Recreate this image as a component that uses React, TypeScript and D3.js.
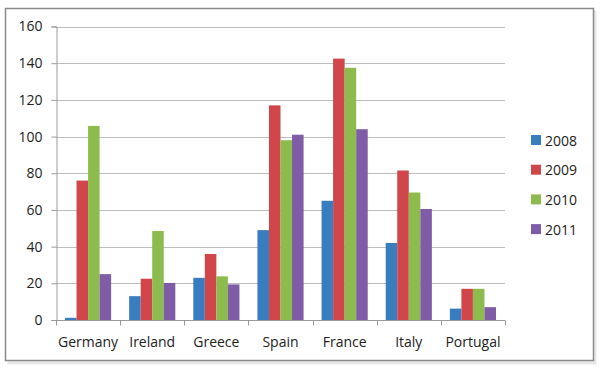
import { useEffect, useRef } from "react";
import * as d3 from "d3";

// Grouped bars, one group per country, one bar per year.
const countries = ["Germany", "Ireland", "Greece", "Spain", "France", "Italy", "Portugal"];
const years = ["2008", "2009", "2010", "2011"];
const values2008 = [1.2, 13, 23, 49, 65, 42, 6.2];
const values2009 = [76, 22.5, 36, 117, 142.5, 81.5, 17];
const values2010 = [105.8, 48.5, 23.8, 98, 137.5, 69.5, 17];
const values2011 = [25, 20.2, 19.4, 101, 104, 60.5, 7];
const yTicks = [0, 20, 40, 60, 80, 100, 120, 140, 160];

const COLORS = ["#3A7CC0", "#D0464A", "#8DBB4E", "#7E5CA6"];
const FONT = "'Open Sans', sans-serif";
const W = 600;
const H = 375;
const PLOT = { left: 56, right: 505, top: 26.5, bottom: 320 };

export default function App() {
  const svgRef = useRef<SVGSVGElement>(null);

  useEffect(() => {
    const svg = d3.select(svgRef.current);
    svg.selectAll("*").remove();

    const series = [values2008, values2009, values2010, values2011];

    const x0 = d3.scaleBand<string>().domain(countries).range([PLOT.left, PLOT.right]);
    const x1 = d3
      .scaleBand<string>()
      .domain(years)
      .range([0, x0.bandwidth()])
      .paddingOuter(0.78)
      .paddingInner(0);
    const y = d3.scaleLinear().domain([0, 160]).range([PLOT.bottom, PLOT.top]);

    // Frame with soft shadow.
    svg.append("rect").attr("width", W).attr("height", H).attr("fill", "#ffffff");
    svg
      .append("rect")
      .attr("x", 7.5)
      .attr("y", 10.5)
      .attr("width", 589)
      .attr("height", 354)
      .attr("fill", "#d8d8d8")
      .attr("opacity", 0.6);
    svg
      .append("rect")
      .attr("x", 5.5)
      .attr("y", 8.5)
      .attr("width", 588)
      .attr("height", 352)
      .attr("fill", "#ffffff")
      .attr("stroke", "#8a8a8a")
      .attr("stroke-width", 1.5);

    // Gridlines.
    svg
      .append("g")
      .selectAll("line")
      .data(yTicks.filter((t) => t > 0))
      .join("line")
      .attr("x1", PLOT.left)
      .attr("x2", PLOT.right)
      .attr("y1", (d) => Math.round(y(d)) + 0.5)
      .attr("y2", (d) => Math.round(y(d)) + 0.5)
      .attr("stroke", "#bdbdbd")
      .attr("stroke-width", 1);

    // Y axis.
    const yAxis = svg
      .append("g")
      .attr("transform", `translate(${PLOT.left + 0.5},0)`)
      .call(d3.axisLeft(y).tickValues(yTicks).tickSize(5).tickPadding(9))
      .call((g) => g.select(".domain").attr("stroke", "#9a9a9a"));
    yAxis.selectAll(".tick line").attr("stroke", "#9a9a9a");
    yAxis
      .selectAll("text")
      .attr("font-family", FONT)
      .attr("font-size", 14)
      .attr("fill", "#222");

    // Bars.
    series.forEach((vals, si) => {
      svg
        .append("g")
        .selectAll("rect")
        .data(vals)
        .join("rect")
        .attr("x", (_, i) => (x0(countries[i]) ?? 0) + (x1(years[si]) ?? 0))
        .attr("y", (d) => y(d))
        .attr("width", x1.bandwidth())
        .attr("height", (d) => y(0) - y(d))
        .attr("fill", COLORS[si]);
    });

    // X axis.
    const xAxis = svg.append("g").attr("transform", `translate(0,${PLOT.bottom + 0.5})`);
    xAxis
      .append("line")
      .attr("x1", PLOT.left)
      .attr("x2", PLOT.right)
      .attr("stroke", "#9a9a9a");
    xAxis
      .selectAll("line.tk")
      .data([...countries.map((c) => x0(c) ?? 0), PLOT.right])
      .join("line")
      .attr("class", "tk")
      .attr("x1", (d) => Math.round(d) + 0.5)
      .attr("x2", (d) => Math.round(d) + 0.5)
      .attr("y1", 0)
      .attr("y2", 5)
      .attr("stroke", "#9a9a9a");
    xAxis
      .selectAll("text")
      .data(countries)
      .join("text")
      .attr("x", (d) => (x0(d) ?? 0) + x0.bandwidth() / 2)
      .attr("y", 26)
      .attr("text-anchor", "middle")
      .attr("font-family", FONT)
      .attr("font-size", 14)
      .attr("fill", "#222")
      .text((d) => d);

    // Legend.
    const legend = svg
      .append("g")
      .selectAll("g")
      .data(years)
      .join("g")
      .attr("transform", (_, i) => `translate(531,${140 + i * 29.7})`);
    legend
      .append("rect")
      .attr("x", 0)
      .attr("y", -5)
      .attr("width", 10)
      .attr("height", 10)
      .attr("fill", (_, i) => COLORS[i]);
    legend
      .append("text")
      .attr("x", 14)
      .attr("y", 5.5)
      .attr("font-family", FONT)
      .attr("font-size", 14)
      .attr("fill", "#222")
      .text((d) => d);
  }, []);

  return (
    <svg
      ref={svgRef}
      width={W}
      height={H}
      style={{ position: "absolute", left: 0, top: 0, display: "block" }}
    />
  );
}
